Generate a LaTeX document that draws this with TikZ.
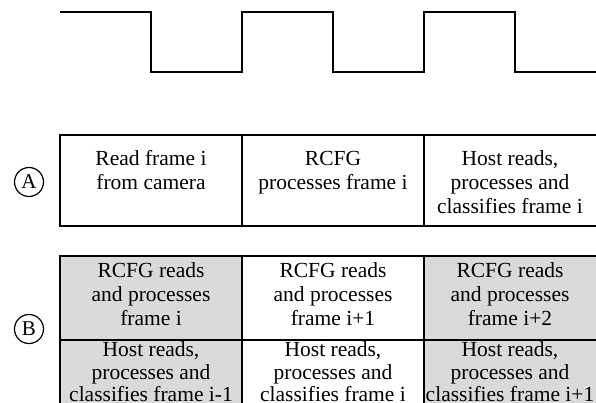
\documentclass[tikz,border=0pt]{standalone}
\usepackage{fontspec}
\setmainfont{Liberation Serif}
\definecolor{cellgray}{RGB}{218,218,218}
\begin{document}
\begin{tikzpicture}[x=1pt,y=-1pt,
  txt/.style={font=\fontsize{21.5}{24}\selectfont, align=center, inner sep=0pt},
  tighttxt/.style={font=\fontsize{21.5}{22.3}\selectfont, align=center, inner sep=0pt},
  cell/.style={inner sep=0pt, outer sep=0pt, anchor=north west, minimum width=182pt},
  lastcell/.style={cell, minimum width=172pt},
  rowA/.style={minimum height=91pt},
  rowB/.style={minimum height=84pt},
  shaded/.style={fill=cellgray},
  grid/.style={line width=1.5pt, line cap=rect},
  wave/.style={line width=1.6pt, line join=miter},
  lab/.style={draw, circle, line width=1.2pt, minimum size=29pt, inner sep=0pt, font=\fontsize{21}{22}\selectfont}]
\useasboundingbox (0,0) rectangle (596,403);
\clip (0,0) rectangle (596,403);
% square wave
\draw[wave] (60,12) -- (151,12) -- (151,72) -- (242,72) -- (242,12) -- (333,12) -- (333,72) -- (424,72) -- (424,12) -- (515,12) -- (515,72) -- (600,72);
% table A
\node[cell,rowA] (a1) at (60,135) {};
\node[cell,rowA] (a2) at (242,135) {};
\node[lastcell,rowA] (a3) at (424,135) {};
\node[txt] (ta1) at ([yshift=-1.5pt]a1.center) {Read frame i\\from camera\\\phantom{classifies frame i}};
\node[txt] (ta2) at ([yshift=-1.5pt]a2.center) {RCFG\\processes frame i\\\phantom{classifies frame i}};
\node[txt] (ta3) at ([yshift=-1.5pt]a3.center) {Host reads,\\processes and\\classifies frame i};
\draw[grid] (a1.north west) -- (a3.north east) (a1.south west) -- (a3.south east)
  (a1.north west) -- (a1.south west) (a2.north west) -- (a2.south west) (a3.north west) -- (a3.south west);
% table B
\node[cell,rowB,shaded] (b1) at (60,256) {};
\node[cell,rowB] (b2) at (242,256) {};
\node[lastcell,rowB,shaded] (b3) at (424,256) {};
\node[cell,rowB,shaded] (c1) at (60,340) {};
\node[cell,rowB] (c2) at (242,340) {};
\node[lastcell,rowB,shaded] (c3) at (424,340) {};
\node[txt] (tb1) at ([yshift=3.5pt]b1.center) {RCFG reads\\and processes\\frame i};
\node[txt] (tb2) at ([yshift=3.5pt]b2.center) {RCFG reads\\and processes\\frame i+1};
\node[txt] (tb3) at ([yshift=3.5pt]b3.center) {RCFG reads\\and processes\\frame i+2};
\node[tighttxt] (tc1) at ([yshift=10.3pt]c1.center) {Host reads,\\processes and\\classifies frame i-1};
\node[tighttxt] (tc2) at ([yshift=10.3pt]c2.center) {Host reads,\\processes and\\classifies frame i};
\node[tighttxt] (tc3) at ([yshift=10.3pt]c3.center) {Host reads,\\processes and\\classifies frame i+1};
\draw[grid] (b1.north west) -- (b3.north east) (b1.south west) -- (b3.south east)
  (b1.north west) -- (c1.south west) (b2.north west) -- (c2.south west) (b3.north west) -- (c3.south west);
% labels
\node[lab] (A) at (29,182) {A};
\node[lab] (B) at (29,329) {B};
\end{tikzpicture}
\end{document}
